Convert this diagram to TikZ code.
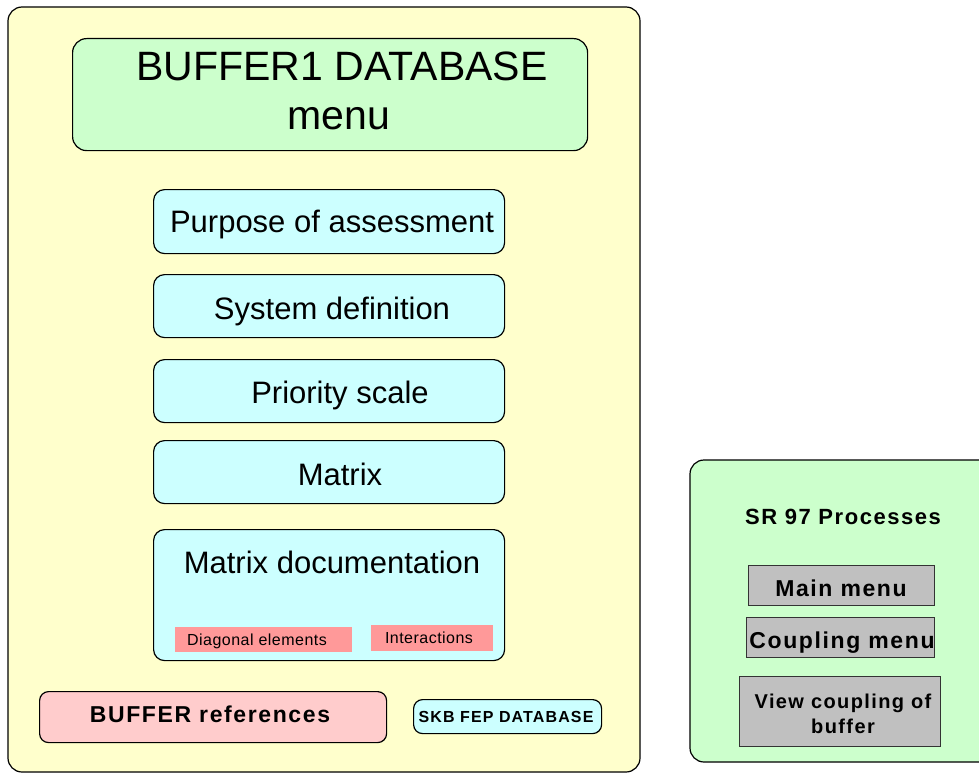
\documentclass[tikz,border=0pt]{standalone}
\usepackage{fontspec}
\setmainfont{Liberation Sans}
\definecolor{paleyellow}{HTML}{FFFFCC}
\definecolor{palegreen}{HTML}{CCFFCC}
\definecolor{palecyan}{HTML}{CCFFFF}
\definecolor{palepink}{HTML}{FFCCCC}
\definecolor{salmon}{HTML}{FF9999}
\definecolor{btngray}{HTML}{C0C0C0}
\begin{document}
\begin{tikzpicture}[x=1pt,y=-1pt,
  panel/.style={draw=black,line width=1.2pt,rounded corners=14pt},
  menubox/.style={draw=black,line width=1.2pt,rounded corners=11pt,fill=palecyan},
  tag/.style={fill=salmon},
  button/.style={draw=black!80,line width=1.2pt,fill=btngray},
  big/.style={font=\fontsize{31}{36}\selectfont},
  tiny/.style={font=\fontsize{16}{19}\selectfont\addfontfeature{LetterSpace=3}},
  boldlbl/.style={font=\bfseries\fontsize{#1}{#1}\selectfont\addfontfeature{LetterSpace=7}}]
\useasboundingbox (0,0) rectangle (979,773);

% left panel
\draw[panel,fill=paleyellow] (8,7) rectangle (640,772);
\node[panel,fill=palegreen,minimum width=515pt,minimum height=112pt,anchor=north west] (title) at (72,38) {};
\node[anchor=base,font=\fontsize{41}{48}\selectfont] (t1) at (342,81) {BUFFER1 DATABASE};
\node[anchor=base,font=\fontsize{41}{48}\selectfont] (t2) at (339,129) {menu};

% menu entries
\node[menubox,minimum width=351pt,minimum height=64pt,anchor=north west] (purpose) at (153,189) {};
\node[big,anchor=base] at (332,232) {Purpose of assessment};
\node[menubox,minimum width=351pt,minimum height=63pt,anchor=north west] (sysdef) at (153,274) {};
\node[big,anchor=base] at (332,319) {System definition};
\node[menubox,minimum width=351pt,minimum height=63pt,anchor=north west] (prio) at (153,359) {};
\node[big,anchor=base] at (340,403) {Priority scale};
\node[menubox,minimum width=351pt,minimum height=63pt,anchor=north west] (matrix) at (153,440) {};
\node[big,anchor=base] at (340,485) {Matrix};
\node[menubox,minimum width=351pt,minimum height=131pt,anchor=north west] (matdoc) at (153,529) {};
\node[big,anchor=base] at (332,573) {Matrix documentation};
\node[tag,minimum width=177pt,minimum height=25pt,anchor=north west] (diag) at (175,627) {};
\node[tiny,anchor=base] at (257,645) {Diagonal elements};
\node[tag,minimum width=122pt,minimum height=26pt,anchor=north west] (inter) at (371,625) {};
\node[tiny,anchor=base] at (429,643) {Interactions};

% bottom links
\node[panel,rounded corners=9pt,fill=palepink,minimum width=347pt,minimum height=51pt,anchor=north west] (refs) at (39,691) {};
\node[boldlbl=23,anchor=base] at (210,722) {BUFFER references};
\node[panel,rounded corners=9pt,fill=palecyan,minimum width=188pt,minimum height=34pt,anchor=north west] (skb) at (413,699) {};
\node[boldlbl=16,anchor=base] at (506,722) {SKB FEP DATABASE};

% right panel
\draw[panel,fill=palegreen] (690,460) rectangle (1000,762);
\node[boldlbl=22,anchor=base] (sr) at (843,524) {SR 97 Processes};
\node[button,minimum width=186pt,minimum height=40pt,anchor=north west] (main) at (748,565) {};
\node[boldlbl=23,anchor=base] at (841,596) {Main menu};
\node[button,minimum width=188pt,minimum height=40pt,anchor=north west] (coup) at (746,617) {};
\node[boldlbl=23,anchor=base] at (842,648) {Coupling menu};
\node[button,minimum width=201pt,minimum height=70pt,anchor=north west] (view) at (739,676) {};
\node[boldlbl=20,anchor=base] at (843,708) {View coupling of};
\node[boldlbl=20,anchor=base] at (843,733) {buffer};
\end{tikzpicture}
\end{document}
